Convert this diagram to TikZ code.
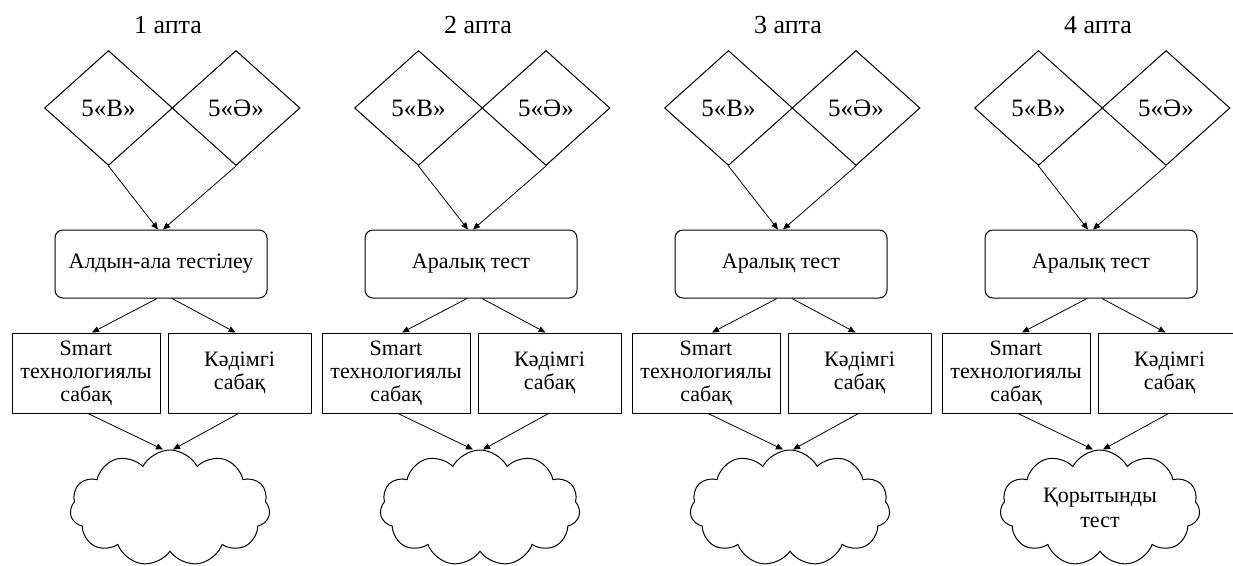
\documentclass[tikz,border=0pt]{standalone}
\usepackage{fontspec}
\setmainfont{Liberation Serif}
\usetikzlibrary{shapes.geometric,shapes.symbols,arrows.meta}

\tikzset{
  weektitle/.style={font=\fontsize{26}{28}\selectfont},
  classbox/.style={draw, diamond, minimum width=128pt, minimum height=115pt,
    inner sep=0pt, font=\fontsize{25}{27}\selectfont},
  testbox/.style={draw, rounded corners=8pt, minimum width=212pt,
    minimum height=68pt, font=\fontsize{22}{24}\selectfont},
  lessonbox/.style={draw, minimum height=80pt, inner sep=2pt, align=center,
    font=\fontsize{22}{23}\selectfont},
  cloudbox/.style={draw, cloud, cloud puffs=11, cloud puff arc=125,
    cloud ignores aspect, shape border rotate=16, minimum width=200pt,
    minimum height=116pt, align=center, font=\fontsize{22}{25}\selectfont},
  link/.style={-{Triangle[length=7pt,width=6pt]}, line width=0.8pt}
}

\begin{document}
\begin{tikzpicture}[x=1pt, y=-1pt, line width=1pt]
    \useasboundingbox (0,0) rectangle (1233,565);
    % one column per week
    \foreach \i/\testname/\final [evaluate=\i as \x using (\i-1)*310] in
        {1/Алдын-ала тестілеу/{}, 2/Аралық тест/{}, 3/Аралық тест/{},
         4/Аралық тест/{Қорытынды\\тест}} {
        \node[weektitle] (week\i) at (\x+168, 25) {\i\ апта};
        \node[classbox] (B\i) at (\x+108.5, 108) {5«В»};
        \node[classbox] (A\i) at (\x+236, 108) {5«Ә»};
        \node[testbox] (test\i) at (\x+161, 264) {\testname};
        \node[lessonbox, minimum width=148pt] (smart\i) at (\x+86, 373) {Smart\\технологиялы\\сабақ};
        \node[lessonbox, minimum width=143pt] (usual\i) at (\x+239.5, 373) {Кәдімгі\\сабақ};
        \node[cloudbox] (final\i) at (\x+170, 508) {\final};
        \draw[link] (B\i.south) -- ([xshift=-3pt]test\i.north);
        \draw[link] (A\i.south) -- ([xshift=2pt]test\i.north);
        \draw[link] ([xshift=-4pt]test\i.south) -- ([xshift=6pt]smart\i.north);
        \draw[link] ([xshift=11pt]test\i.south) -- ([xshift=-4pt]usual\i.north);
        \draw[link] ([xshift=2pt]smart\i.south) -- ([xshift=-7pt]final\i.north);
        \draw[link] ([xshift=-1pt]usual\i.south) -- ([xshift=3pt]final\i.north);
    }
\end{tikzpicture}
\end{document}
